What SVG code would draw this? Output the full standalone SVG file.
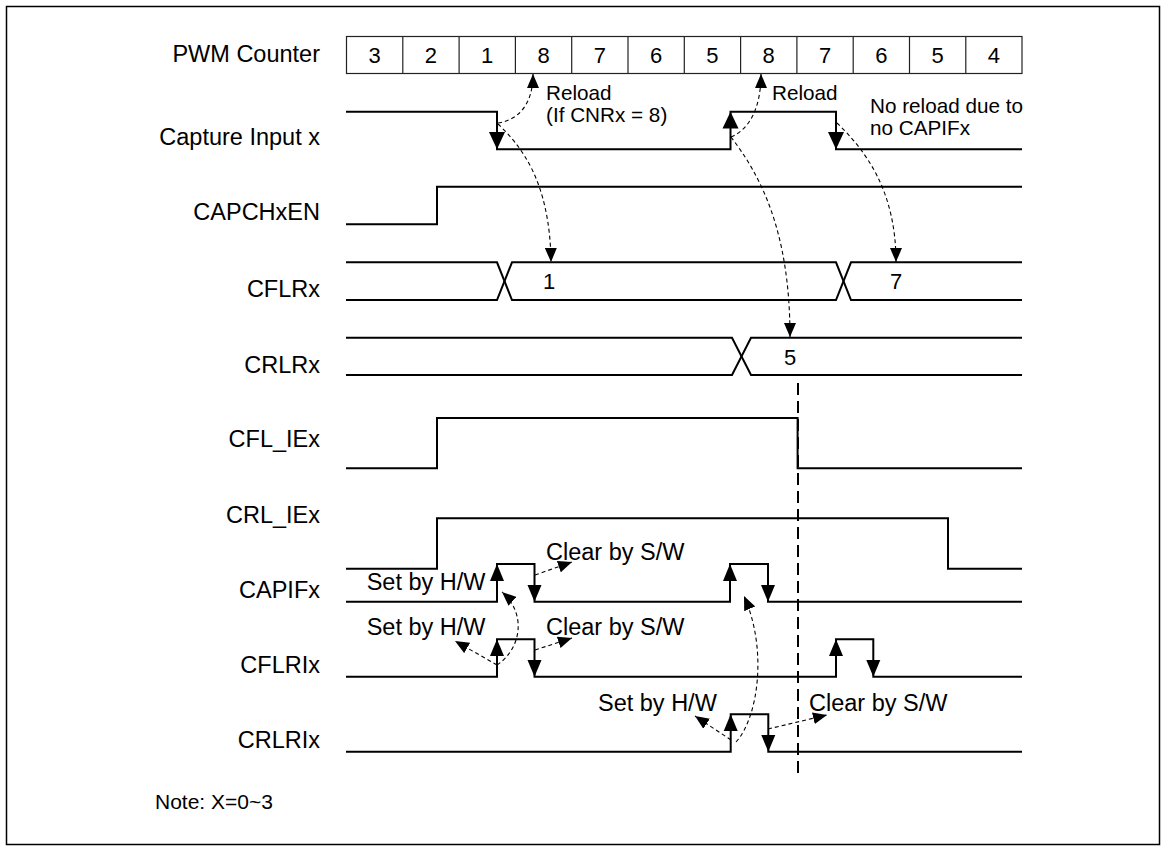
<svg xmlns="http://www.w3.org/2000/svg" width="1166" height="850" viewBox="0 0 1166 850">
<defs>
<style>
text{font-family:"Liberation Sans",Arial,sans-serif;fill:#000}
.lbl{font-size:23.5px;text-anchor:end}
.ann{font-size:23.5px}
.rl{font-size:20.7px}
.dig{font-size:22px;text-anchor:middle}
.sig{fill:none;stroke:#000;stroke-width:2;stroke-linejoin:miter}
.cell{fill:#fff;stroke:#222;stroke-width:1.2}
.dash{fill:none;stroke:#000;stroke-width:1.1;stroke-dasharray:4,3}
.vd{fill:none;stroke:#000;stroke-width:2;stroke-dasharray:12,6}
.ah{fill:#000}
</style>
<marker id="arr" viewBox="0 0 14 12" refX="14" refY="6" markerWidth="14" markerHeight="12" markerUnits="userSpaceOnUse" orient="auto"><path d="M0,0 L14,6 L0,12 z" fill="#000"/></marker>
</defs>
<rect x="0" y="0" width="1166" height="850" fill="#fff"/>
<rect x="6.5" y="6.5" width="1153" height="838" fill="none" stroke="#000" stroke-width="1.5"/>

<g id="labels">
<text class="lbl" x="320" y="62">PWM Counter</text>
<text class="lbl" x="320" y="145">Capture Input x</text>
<text class="lbl" x="320" y="220">CAPCHxEN</text>
<text class="lbl" x="320" y="296.7">CFLRx</text>
<text class="lbl" x="320" y="373.3">CRLRx</text>
<text class="lbl" x="320" y="447.4">CFL_IEx</text>
<text class="lbl" x="320" y="522.7">CRL_IEx</text>
<text class="lbl" x="320" y="598.4">CAPIFx</text>
<text class="lbl" x="320" y="673.4">CFLRIx</text>
<text class="lbl" x="320" y="748.4">CRLRIx</text>
<text x="155" y="808.5" style="font-size:21px">Note: X=0~3</text>
</g>

<g id="pwm-counter">
<rect class="cell" x="346.5" y="36.5" width="675.5" height="37"/>
<path d="M402.8,36.5V73.5M459.1,36.5V73.5M515.4,36.5V73.5M571.7,36.5V73.5M628,36.5V73.5M684.3,36.5V73.5M740.6,36.5V73.5M796.9,36.5V73.5M853.2,36.5V73.5M909.5,36.5V73.5M965.8,36.5V73.5" stroke="#222" stroke-width="1.2" fill="none"/>
<text class="dig" x="374.6" y="62.5">3</text>
<text class="dig" x="430.9" y="62.5">2</text>
<text class="dig" x="487.2" y="62.5">1</text>
<text class="dig" x="543.5" y="62.5">8</text>
<text class="dig" x="599.8" y="62.5">7</text>
<text class="dig" x="656.1" y="62.5">6</text>
<text class="dig" x="712.4" y="62.5">5</text>
<text class="dig" x="768.7" y="62.5">8</text>
<text class="dig" x="825" y="62.5">7</text>
<text class="dig" x="881.3" y="62.5">6</text>
<text class="dig" x="937.6" y="62.5">5</text>
<text class="dig" x="993.9" y="62.5">4</text>
</g>

<g id="capture-input">
<path class="sig" d="M346,111.7H497V149.3H730.5V111.7H836V149.3H1022"/>
<polygon class="ah" points="489,132 505,132 497,149.3"/>
<polygon class="ah" points="722.5,128.5 738.5,128.5 730.5,111.7"/>
<polygon class="ah" points="828,132 844,132 836,149.3"/>
<text class="rl" x="546" y="99.5">Reload</text>
<text class="rl" x="546" y="122.4">(If CNRx = 8)</text>
<text class="rl" x="772" y="99.5">Reload</text>
<text class="rl" x="870" y="113">No reload due to</text>
<text class="rl" x="870" y="134.5">no CAPIFx</text>
</g>

<g id="capchxen">
<path class="sig" d="M346,224.3H437V186.7H1022"/>
</g>

<g id="cflrx">
<path class="sig" d="M346,262.3H497L512,300H836L851,262.3H1022"/>
<path class="sig" d="M346,300H497L512,262.3H836L851,300H1022"/>
<text class="dig" x="549" y="289">1</text>
<text class="dig" x="896" y="289">7</text>
</g>

<g id="crlrx">
<path class="sig" d="M346,337.7H732L751,375H1022"/>
<path class="sig" d="M346,375H732L751,337.7H1022"/>
<text class="dig" x="790" y="364.5">5</text>
</g>

<g id="cfl-iex">
<path class="sig" d="M346,468.3H437V417.9H797.6V468.3H1022"/>
</g>

<g id="crl-iex">
<path class="sig" d="M346,568.7H437V518.3H948V568.7H1022"/>
</g>

<g id="capifx">
<path class="sig" d="M346,601.7H497V564H534.5V601.7H730V564H768V601.7H1022"/>
<polygon class="ah" points="490,581 504,581 497,564"/>
<polygon class="ah" points="527.5,585 541.5,585 534.5,601.7"/>
<polygon class="ah" points="723,581 737,581 730,564"/>
<polygon class="ah" points="761,585 775,585 768,601.7"/>
<text class="ann" x="366.7" y="589.6">Set by H/W</text>
<text class="ann" x="546" y="560">Clear by S/W</text>
</g>

<g id="cflrix">
<path class="sig" d="M346,676.7H497V639.3H534.5V676.7H836V639.3H873.3V676.7H1022"/>
<polygon class="ah" points="490,656 504,656 497,639.3"/>
<polygon class="ah" points="527.5,660 541.5,660 534.5,676.7"/>
<polygon class="ah" points="829,656 843,656 836,639.3"/>
<polygon class="ah" points="866.3,660 880.3,660 873.3,676.7"/>
<text class="ann" x="366.7" y="635">Set by H/W</text>
<text class="ann" x="546" y="635">Clear by S/W</text>
</g>

<g id="crlrix">
<path class="sig" d="M346,751.7H730.7V714.3H768.3V751.7H1022"/>
<polygon class="ah" points="723.7,731 737.7,731 730.7,714.3"/>
<polygon class="ah" points="761.3,735 775.3,735 768.3,751.7"/>
<text class="ann" x="598" y="710.7">Set by H/W</text>
<text class="ann" x="809" y="710.7">Clear by S/W</text>
</g>

<g id="connectors">
<path class="dash" d="M498,123 C518,120 533,105 533,74" marker-end="url(#arr)"/>
<path class="dash" d="M498,124 C520,145 550,180 551,262" marker-end="url(#arr)"/>
<path class="dash" d="M731,137 C748,130 761,110 761,74" marker-end="url(#arr)"/>
<path class="dash" d="M731,137 C760,175 790,230 790,337" marker-end="url(#arr)"/>
<path class="dash" d="M837,123 C865,150 896,190 896,262" marker-end="url(#arr)"/>
<path class="dash" d="M535,575 L572,562" marker-end="url(#arr)"/>
<path class="dash" d="M497,665 L455,641" marker-end="url(#arr)"/>
<path class="dash" d="M535,650 L572,638" marker-end="url(#arr)"/>
<path class="dash" d="M497,665 C520,650 528,615 502,592" marker-end="url(#arr)"/>
<path class="dash" d="M731,740 L695,716" marker-end="url(#arr)"/>
<path class="dash" d="M768,729 L827,715" marker-end="url(#arr)"/>
<path class="dash" d="M736,742 C758,718 768,650 744,596" marker-end="url(#arr)"/>
<path class="vd" d="M798,383V778"/>
</g>
</svg>
